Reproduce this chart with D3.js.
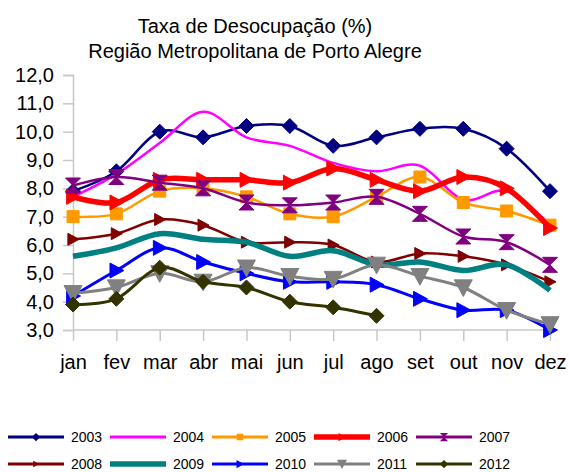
<!DOCTYPE html>
<html><head><meta charset="utf-8">
<script src="https://cdn.jsdelivr.net/npm/d3@7"></script>
<style>body{margin:0;background:#fff}text{font-family:"Liberation Sans",Arial,sans-serif;fill:#000}</style>
</head><body>
<svg id="c" width="569" height="472"></svg>
<script>
const months = ["jan","fev","mar","abr","mai","jun","jul","ago","set","out","nov","dez"];
const yTicks = [3,4,5,6,7,8,9,10,11,12];
const years = ["2003","2004","2005","2006","2007","2008","2009","2010","2011","2012"];
const v2003 = [7.9, 8.6, 10.0, 9.8, 10.2, 10.2, 9.5, 9.8, 10.1, 10.1, 9.4, 7.9];
const v2004 = [7.7, 8.5, 9.6, 10.7, 9.8, 9.5, 8.9, 8.6, 8.8, 7.6, 7.9, 6.7];
const v2005 = [7.0, 7.1, 7.9, 8.0, 7.7, 7.1, 7.0, 7.7, 8.4, 7.5, 7.2, 6.7];
const v2006 = [7.7, 7.5, 8.3, 8.3, 8.3, 8.2, 8.7, 8.3, 7.9, 8.4, 8.0, 6.6];
const v2007 = [8.1, 8.4, 8.2, 8.0, 7.5, 7.4, 7.5, 7.7, 7.1, 6.3, 6.1, 5.3];
const v2008 = [6.2, 6.4, 6.9, 6.7, 6.1, 6.1, 6.0, 5.4, 5.7, 5.6, 5.3, 4.7];
const v2009 = [5.6, 5.9, 6.4, 6.2, 6.1, 5.6, 5.8, 5.3, 5.4, 5.1, 5.3, 4.4];
const v2010 = [4.2, 5.1, 5.9, 5.4, 5.0, 4.7, 4.7, 4.6, 4.1, 3.7, 3.7, 3.0];
const v2011 = [4.3, 4.5, 5.0, 4.7, 5.2, 4.9, 4.8, 5.3, 4.9, 4.5, 3.7, 3.2];
const v2012 = [3.9, 4.1, 5.2, 4.7, 4.5, 4.0, 3.8, 3.5];
const seriesValues = [v2003,v2004,v2005,v2006,v2007,v2008,v2009,v2010,v2011,v2012];

const styles = [
  {color:"#000080", w:2.5, m:"diamond", s:7.5},
  {color:"#FF00FF", w:2.5, m:null, s:0},
  {color:"#FF9900", w:2.5, m:"square", s:6},
  {color:"#FF0000", w:5.5, m:"tri", s:7.5},
  {color:"#800080", w:2.5, m:"hour", s:7.5},
  {color:"#800000", w:2.5, m:"tri", s:6},
  {color:"#008080", w:5.5, m:null, s:0},
  {color:"#0000FF", w:3, m:"tri", s:7.5},
  {color:"#808080", w:3, m:"itri", s:9},
  {color:"#333300", w:3, m:"diamond", s:7.5}
];
function markerPath(t, s){
  if(t==="diamond") return `M0,${-s}L${s},0L0,${s}L${-s},0Z`;
  if(t==="square") return `M${-s},${-s}H${s}V${s}H${-s}Z`;
  if(t==="tri") return `M${-s*0.85},${-s}L${s},0L${-s*0.85},${s}Z`;
  if(t==="hour") return `M${-s},${-s}H${s}L0,0L${s},${s}H${-s}L0,0Z`;
  if(t==="itri") return `M${-s},${-s*0.85}H${s}L0,${s}Z`;
  return "";
}

const svg = d3.select("#c");
const x = d3.scalePoint().domain(months).range([73,550]);
const y = d3.scaleLinear().domain([3,12]).range([330,75]);

// title
svg.append("text").attr("x",255).attr("y",33).attr("text-anchor","middle").style("font-size","20px").text("Taxa de Desocupação (%)");
svg.append("text").attr("x",255).attr("y",58).attr("text-anchor","middle").style("font-size","20px").text("Região Metropolitana de Porto Alegre");

// axes
const axisColor = "#c8c8c8";
const gy = svg.append("g").attr("transform","translate(73,0)")
  .call(d3.axisLeft(y).tickValues(yTicks).tickSize(10).tickPadding(9).tickFormat(d=>d3.format(".1f")(d).replace(".",",")));
gy.select(".domain").attr("stroke",axisColor).attr("stroke-width",1.5);
gy.selectAll(".tick line").attr("stroke",axisColor).attr("stroke-width",1.5);
gy.selectAll(".tick text").style("font-size","20px").style("font-family","'Liberation Sans',Arial,sans-serif").attr("fill","#000");

const gx = svg.append("g").attr("transform","translate(0,330)")
  .call(d3.axisBottom(x).tickSize(11).tickPadding(14).tickSizeOuter(0));
gx.select(".domain").attr("stroke",axisColor).attr("stroke-width",1.5).attr("d","M73,0H550");
gx.selectAll(".tick line").attr("stroke",axisColor).attr("stroke-width",1.5);
gx.selectAll(".tick text").style("font-size","20px").style("font-family","'Liberation Sans',Arial,sans-serif").attr("fill","#000");

const line = d3.line().x((d,i)=>x(months[i])).y(d=>y(d)).curve(d3.curveCardinal.tension(0));

seriesValues.forEach((vals,k)=>{
  const st = styles[k];
  const g = svg.append("g");
  g.append("path").attr("d",line(vals)).attr("fill","none").attr("stroke",st.color).attr("stroke-width",st.w).attr("stroke-linejoin","round");
  if(st.m){
    g.selectAll("path.mk").data(vals).enter().append("path").attr("class","mk")
      .attr("transform",(d,i)=>`translate(${x(months[i])},${y(d)})`)
      .attr("d",markerPath(st.m,st.s)).attr("fill",st.color).attr("stroke",st.color).attr("stroke-width",1);
  }
});

// legend
const leg = svg.append("g");
years.forEach((yr,k)=>{
  const st = styles[k];
  const col = k%5, row = Math.floor(k/5);
  const x0 = 8 + col*102, yy = 437 + row*27;
  leg.append("line").attr("x1",x0).attr("x2",x0+56).attr("y1",yy).attr("y2",yy).attr("stroke",st.color).attr("stroke-width",Math.max(3,st.w));
  if(st.m){
    leg.append("path").attr("transform",`translate(${x0+28},${yy})`).attr("d",markerPath(st.m,st.s*0.55)).attr("fill",st.color);
  }
  leg.append("text").attr("x",x0+63).attr("y",yy+5).style("font-size","14px").text(yr);
});
</script>
</body></html>
